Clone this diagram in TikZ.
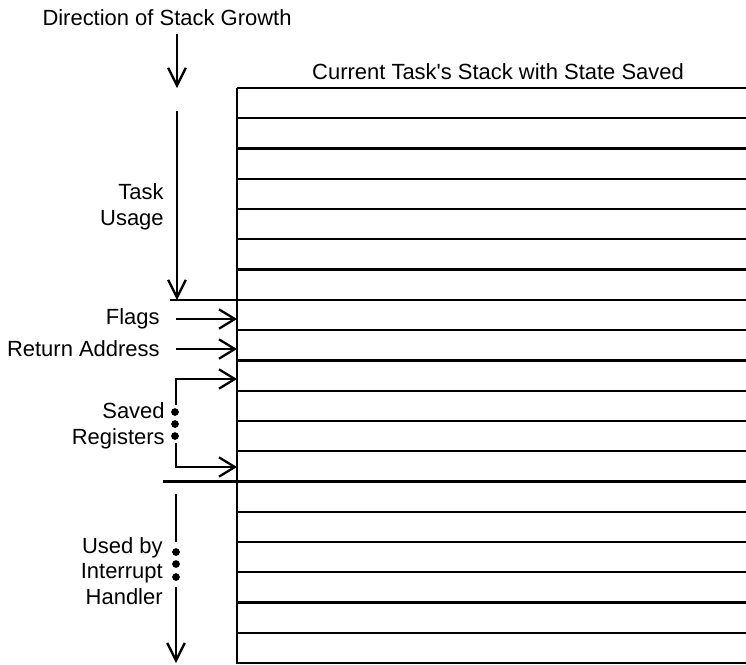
\documentclass[tikz,border=0pt]{standalone}
\usepackage{fontspec}
\setmainfont{Liberation Sans}
\usetikzlibrary{arrows.meta}
\tikzset{
  lbl/.style={font=\fontsize{12.5}{14.5}\selectfont, inner sep=0pt, align=right},
  ptr/.style={-{Straight Barb[length=9pt,width=11pt,line width=1.3pt]}, line width=1.1pt},
  growarrow/.style={-{Straight Barb[length=10pt,width=10pt,line width=1.3pt]}, line width=0.8pt},
  slot/.style={line width=1.3pt},
  dot/.style={fill, circle, inner sep=0pt, minimum size=4.4pt}
}
\newcommand{\rowgap}{30.263}
\begin{document}
\begin{tikzpicture}[x=0.02cm, y=-0.02cm]
  \useasboundingbox (0,0) rectangle (746,664);
  % stack slots
  \foreach \k in {0,...,19} {\draw[slot] (237,88+\k*\rowgap) -- (746,88+\k*\rowgap);};
  \draw[slot] (237,88) -- (237,664);
  \draw[slot] (170,{88+7*\rowgap}) -- (237,{88+7*\rowgap});
  \draw[slot] (163,{88+13*\rowgap}) -- (237,{88+13*\rowgap});
  % titles
  \node[lbl] (growth) at (167,18) {Direction of Stack Growth};
  \node[lbl] (stack) at (498,72) {Current Task\textquotesingle s Stack with State Saved};
  \coordinate (g1) at (177,34);
  \coordinate (g2) at (177,88);
  \draw[growarrow] (g1) -- (g2);
  % task usage
  \node[lbl, anchor=east] (task) at (164,207) {Task\\Usage};
  \coordinate (t1) at (177,111);
  \coordinate (t2) at (177,300);
  \draw[growarrow] (t1) -- (t2);
  % flags and return address
  \node[lbl, anchor=east] (flags) at (160,319) {Flags};
  \node[lbl, anchor=east] (ret) at (160,349) {Return Address};
  \coordinate (f1) at (176,319);
  \coordinate (f2) at (237,319);
  \coordinate (r1) at (176,349);
  \coordinate (r2) at (237,349);
  \draw[ptr] (f1) -- (f2);
  \draw[ptr] (r1) -- (r2);
  % saved registers
  \node[lbl, anchor=east] (saved) at (165,426) {Saved\\Registers};
  \coordinate (s0) at (176,405);
  \coordinate (s1) at (176,379);
  \coordinate (s2) at (237,379);
  \coordinate (s3) at (176,443);
  \coordinate (s4) at (176,467);
  \coordinate (s5) at (237,467);
  \draw[ptr] (s0) -- (s1) -- (s2);
  \draw[ptr] (s3) -- (s4) -- (s5);
  \foreach \y in {412,424,436} {\node[dot] at (175,\y) {};};
  % interrupt handler
  \node[lbl, anchor=east] (irq) at (163,571) {Used by\\Interrupt\\Handler};
  \coordinate (i1) at (176,494);
  \coordinate (i2) at (176,542);
  \coordinate (i3) at (176,587);
  \coordinate (i4) at (176,663);
  \draw[line width=0.8pt] (i1) -- (i2);
  \draw[growarrow] (i3) -- (i4);
  \foreach \y in {552,564,577} {\node[dot] at (176,\y) {};};
\end{tikzpicture}
\end{document}
